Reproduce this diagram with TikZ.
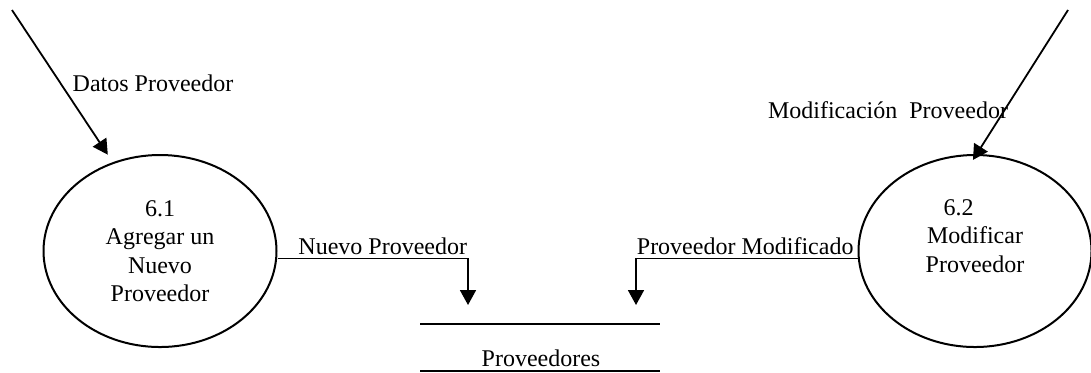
\documentclass[tikz,border=0pt]{standalone}
\usepackage{fontspec}
\setmainfont{Liberation Serif}
\usetikzlibrary{arrows.meta,shapes.geometric,positioning}

\tikzset{
  proc/.style={draw, ellipse, line width=1pt, minimum width=116.5pt,
    minimum height=96pt, align=center, inner sep=0pt},
  flow/.style={line width=0.9pt, -{Triangle[length=7.5pt,width=8pt]}},
  flowlbl/.style={inner xsep=0pt, inner ysep=1.5pt},
  store/.style={line width=1pt}
}

\begin{document}
\begin{tikzpicture}[x=0.5pt,y=-0.5pt,
    every node/.style={font=\fontsize{12}{14.25}\selectfont}]
  \useasboundingbox (0,0) rectangle (1091,372);

  % processes
  \node[proc] (p1) at (160,251) {6.1\\Agregar un\\Nuevo\\Proveedor};
  \node[proc] (p2) at (975,251) {};
  \node[align=center] (p2txt) at (975,236) {6.2\hspace*{16.5pt}\\Modificar\\Proveedor};

  % incoming flows
  \coordinate (dp) at (12,10);
  \coordinate (mp) at (1068,10);
  \draw[flow, shorten >=4.5pt] (dp) -- (p1.118);
  \draw[flow, shorten >=-3.5pt] (mp) -- (p2.89);
  \node[anchor=base] (dlbl) at (153,91) {Datos Proveedor};
  \node[anchor=base] (mlbl) at (888,118) {Modificación\ \ Proveedor};

  % data store
  \node[anchor=base] (ds) at (541,366) {Proveedores};
  \draw[store] (420,324) -- (660,324);
  \draw[store] (420,370.5) -- (660,370.5);

  % flows to the store
  \coordinate (s1) at (468,305);
  \coordinate (s2) at (636,305);
  \draw[flow] ([yshift=-3.75pt]p1.east) -| node[pos=0.5, anchor=south east, flowlbl] {Nuevo Proveedor} (s1);
  \draw[flow] ([yshift=-3.75pt]p2.west) -| node[pos=0.5, anchor=south west, flowlbl] {Proveedor Modificado} (s2);
\end{tikzpicture}
\end{document}
